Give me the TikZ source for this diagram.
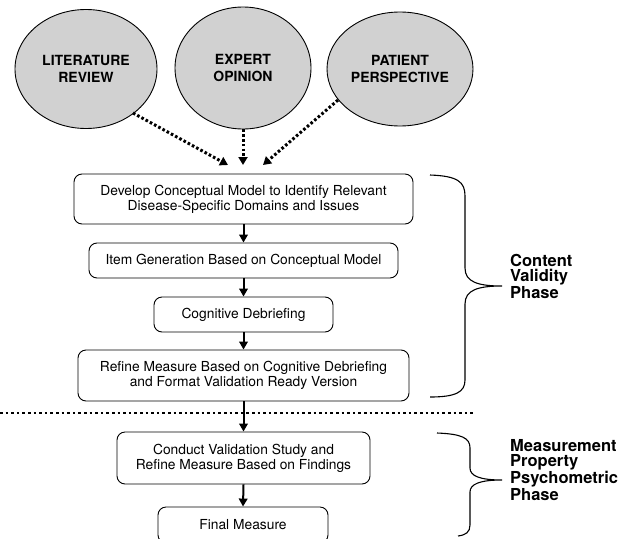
\documentclass[tikz,border=0pt]{standalone}
\usepackage{fontspec}
\setmainfont{TeX Gyre Heros}
\usetikzlibrary{shapes.geometric,arrows.meta}
\definecolor{circfill}{RGB}{209,209,209}
\begin{document}
\begin{tikzpicture}[x=1pt,y=-1pt,
  src/.style={ellipse,draw=black,line width=0.9pt,fill=circfill,inner sep=0pt,align=center,
    font=\fontsize{14}{17}\selectfont\bfseries},
  stepbox/.style={draw=black,line width=0.9pt,rounded corners=8pt,align=center,inner sep=0pt,
    font=\fontsize{13.8}{14.8}\selectfont},
  dotarrow/.style={line width=3pt,dash pattern=on 2.6pt off 2.2pt,
    -{Triangle[length=8pt,width=9pt]}},
  flowarrow/.style={line width=2pt,-{Triangle[length=8pt,width=8.5pt]}},
  brace/.style={line width=1.1pt},
  phase/.style={anchor=north west,align=left,inner sep=0pt,
    font=\fontsize{16.5}{15.5}\selectfont\bfseries}]
\useasboundingbox (0,0) rectangle (631,538);

\node[src,minimum width=142,minimum height=119] (lit) at (86,69) {LITERATURE\\REVIEW};
\node[src,minimum width=136,minimum height=122] (exp) at (243,68) {EXPERT\\OPINION};
\node[src,minimum width=146,minimum height=114] (pat) at (400,69) {PATIENT\\PERSPECTIVE};

\node[stepbox,minimum width=339,minimum height=50] (dev) at (243.5,199)
  {Develop Conceptual Model to Identify Relevant\\Disease-Specific Domains and Issues};
\node[stepbox,minimum width=309,minimum height=35] (item) at (243.5,260.5)
  {Item Generation Based on Conceptual Model};
\node[stepbox,minimum width=179,minimum height=35] (cog) at (243.5,314.5)
  {Cognitive Debriefing};
\node[stepbox,minimum width=331,minimum height=51] (ref) at (243.5,375.5)
  {Refine Measure Based on Cognitive Debriefing\\and Format Validation Ready Version};
\node[stepbox,minimum width=253,minimum height=52] (val) at (243.5,458)
  {Conduct Validation Study and\\Refine Measure Based on Findings};
\node[stepbox,minimum width=170,minimum height=36] (fin) at (243,525)
  {Final Measure};

\coordinate (t1) at (228,165);
\coordinate (t2) at (243,165);
\coordinate (t3) at (263,165);
\coordinate (s1) at (133,113);
\coordinate (s3) at (338,100);
\draw[dotarrow] (s1) -- (t1);
\draw[dotarrow] (exp.south) -- (t2);
\draw[dotarrow] (s3) -- (t3);

\draw[flowarrow] (dev.south) -- (item.north);
\draw[flowarrow] (item.south) -- (cog.north);
\draw[flowarrow] (cog.south) -- (ref.north);
\draw[flowarrow] (ref.south) -- (val.north);
\draw[flowarrow] (val.south) -- (fin.north);

\coordinate (sepL) at (0,413);
\coordinate (sepR) at (473,413);
\draw[line width=2.6pt,dash pattern=on 2.6pt off 3pt] (sepL) -- (sepR);

\draw[brace] (430,175) .. controls (458,176) and (465,182) .. (465,196)
  -- (465,268) .. controls (465,282) and (478,286) .. (502,286)
  .. controls (478,286) and (465,290) .. (465,304)
  -- (465,380) .. controls (465,392) and (456,397) .. (430,397);
\draw[brace] (437,433) .. controls (462,434) and (470,438) .. (470,448)
  -- (470,468) .. controls (470,476) and (480,480) .. (502,480)
  .. controls (480,480) and (470,484) .. (470,492)
  -- (470,525) .. controls (470,532) and (466,535) .. (458,536);

\node[phase] (cv) at (510,254) {Content\\Validity\\Phase};
\node[phase] (mp) at (510,439) {Measurement\\Property\\Psychometric\\Phase};
\end{tikzpicture}
\end{document}
